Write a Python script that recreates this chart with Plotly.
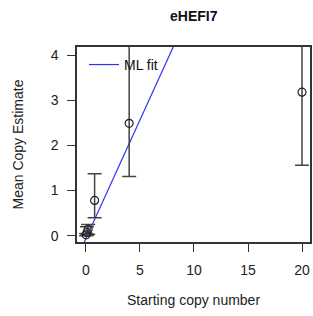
import plotly.graph_objects as go

# Data
start_copy = [0.02, 0.1, 0.2, 0.8, 4, 20]
mean_est = [0.02, 0.07, 0.14, 0.78, 2.49, 3.18]
err_low = [0.0, 0.01, 0.03, 0.40, 1.31, 1.56]
err_high = [0.05, 0.20, 0.25, 1.37, 5.5, 5.5]

fit_x = [-1, 10]
fit_slope = 0.525
fit_intercept = -0.06
fit_y = [fit_slope * v + fit_intercept for v in fit_x]

title = "eHEFI7"
x_title = "Starting copy number"
y_title = "Mean Copy Estimate"

dark = "#333333"
font = "Liberation Sans, Arial, sans-serif"

W, H = 313, 316
L, R, T, B = 77, 3, 47, 74
pw, ph = W - L - R, H - T - B

fig = go.Figure()
fig.add_trace(go.Scatter(
    x=fit_x, y=fit_y, mode="lines", name="ML fit",
    line=dict(color="#3333ee", width=1.2), showlegend=True,
))
fig.add_trace(go.Scatter(
    x=start_copy, y=mean_est, mode="markers", showlegend=False,
    marker=dict(symbol="circle-open", size=8, color="#222222", line=dict(width=1.2)),
    error_y=dict(
        type="data", symmetric=False,
        array=[h - m for h, m in zip(err_high, mean_est)],
        arrayminus=[m - l for m, l in zip(mean_est, err_low)],
        color="#444444", thickness=1.5, width=7,
    ),
))

fig.update_layout(
    width=W, height=H,
    margin=dict(l=L, r=R, t=T, b=B, autoexpand=False),
    paper_bgcolor="white", plot_bgcolor="white",
    font=dict(family=font, size=14, color="#222222"),
    showlegend=True,
    legend=dict(x=0.03, y=0.99, xanchor="left", yanchor="top", bgcolor="rgba(0,0,0,0)",
                font=dict(size=14, family=font, color="#111111"), itemwidth=30),
    xaxis=dict(range=[-0.83, 20.74], tickvals=[0, 5, 10, 15, 20], ticks="outside", ticklen=8,
               tickcolor=dark, tickwidth=1.2, showline=True, linecolor=dark, linewidth=1.5, mirror=True,
               showgrid=False, zeroline=False, tickfont=dict(size=14), automargin=False,
               ticklabelstandoff=6),
    yaxis=dict(range=[-0.14, 4.18], tickvals=[0, 1, 2, 3, 4], ticks="outside", ticklen=8,
               tickcolor=dark, tickwidth=1.2, showline=True, linecolor=dark, linewidth=1.5, mirror=True,
               showgrid=False, zeroline=False, tickfont=dict(size=14), automargin=False,
               ticklabelstandoff=6),
    annotations=[
        dict(text="<b>" + title + "</b>", xref="paper", yref="paper",
             x=0.5, y=1 + (T - 16) / ph, showarrow=False,
             xanchor="center", yanchor="middle", font=dict(size=14, color="#111111")),
        dict(text=x_title, xref="paper", yref="paper", x=0.5, y=-(300 - (H - B)) / ph,
             showarrow=False, xanchor="center", yanchor="middle", font=dict(size=14)),
        dict(text=y_title, xref="paper", yref="paper", x=-(L - 17) / pw, y=0.5, textangle=-90,
             showarrow=False, xanchor="center", yanchor="middle", font=dict(size=14)),
    ],
)

fig.write_html("out.html", config={"displayModeBar": False},
               post_script="document.body.style.margin='0';document.body.style.overflow='hidden';")
